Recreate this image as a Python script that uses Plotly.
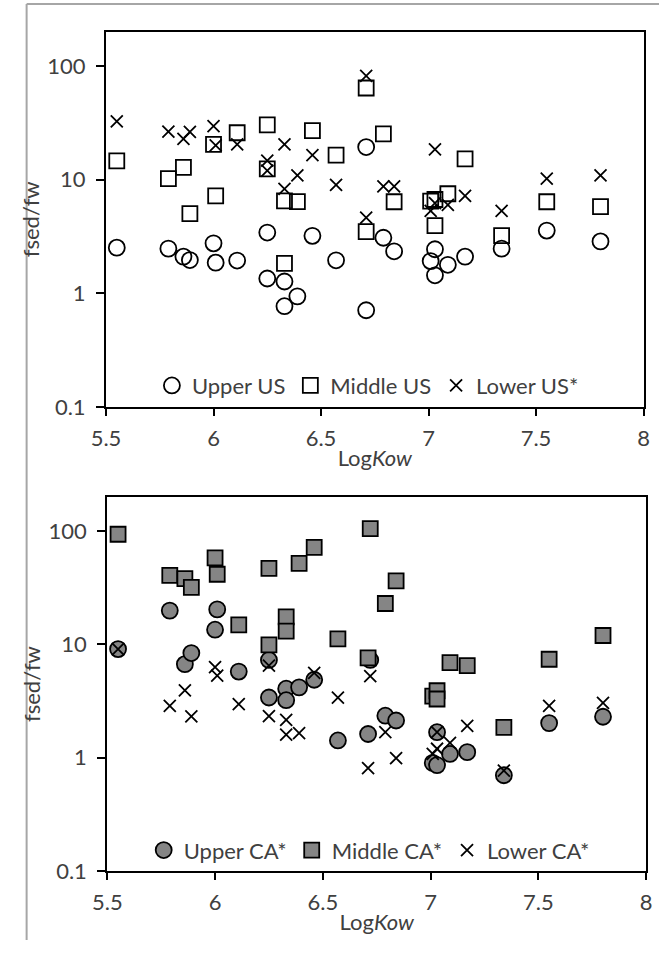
import plotly.graph_objects as go

# ---- data ----
logkow = [5.55, 5.79, 5.86, 5.89, 6.00, 6.01, 6.11, 6.25, 6.25, 6.33, 6.33, 6.39, 6.46,
          6.57, 6.71, 6.71, 6.79, 6.84, 7.01, 7.03, 7.03, 7.09, 7.17, 7.34, 7.55, 7.80]

upper_us = [2.52, 2.47, 2.10, 1.96, 2.75, 1.86, 1.94, 3.42, 1.35, 1.27, 0.77, 0.94, 3.20,
            1.95, 0.71, 19.3, 3.08, 2.34, 1.92, 2.44, 1.44, 1.78, 2.10, 2.47, 3.56, 2.86]
middle_us = [14.6, 10.2, 12.8, 5.02, 20.4, 7.2, 25.8, 30.3, 12.4, 6.5, 1.83, 6.4, 26.9,
             16.4, 63.8, 3.49, 25.2, 6.38, 6.47, 6.68, 3.94, 7.5, 15.2, 3.22, 6.38, 5.77]
lower_us = [32.4, 26.4, 22.8, 26.2, 29.5, 20.0, 20.4, 14.7, 12.0, 20.4, 8.3, 10.9, 16.4,
            9.0, 81.5, 4.63, 8.7, 8.7, 5.3, 18.4, 6.2, 6.0, 7.2, 5.3, 10.2, 10.9]

logkow_ca = [5.55, 5.79, 5.86, 5.89, 6.00, 6.01, 6.11, 6.25, 6.25, 6.33, 6.33, 6.39, 6.46,
             6.57, 6.71, 6.72, 6.79, 6.84, 7.01, 7.03, 7.03, 7.09, 7.17, 7.34, 7.55, 7.80]
upper_ca = [9.1, 19.9, 6.7, 8.4, 13.5, 20.4, 5.76, 7.3, 3.4, 4.07, 3.22, 4.18, 4.88,
            1.42, 1.62, 7.3, 2.35, 2.13, 0.90, 1.68, 0.86, 1.08, 1.12, 0.70, 2.02, 2.30]
middle_ca = [94.0, 40.8, 38.2, 31.9, 58.2, 41.7, 14.9, 47.0, 9.9, 17.5, 13.1, 52.0, 72.1,
             11.2, 7.6, 105.6, 23.0, 36.5, 3.5, 3.9, 3.3, 6.9, 6.5, 1.85, 7.4, 12.0]
lower_ca = [9.1, 2.87, 3.93, 2.32, 6.3, 5.3, 2.97, 6.5, 2.33, 2.16, 1.6, 1.65, 5.6,
            3.4, 0.81, 5.25, 1.68, 0.99, 1.08, 1.68, 1.2, 1.35, 1.91, 0.77, 2.87, 3.05]

y_tickvals = [0.1, 1, 10, 100]
y_ticktext = ["0.1", "1", "10", "100"]

FONT = "Lato"
TXT = "#404040"
FILL = "#858585"
FS = 22

fig = go.Figure()

def add(x, y, name, symbol, size, filled, axis, legend):
    if filled and symbol != "x-thin-open":
        marker = dict(symbol=symbol, size=size, color=FILL, line=dict(color="black", width=1.8))
    else:
        marker = dict(symbol=symbol, size=size, color="black", line=dict(color="black", width=1.8))
    fig.add_trace(go.Scatter(x=x, y=y, mode="markers", name=name, marker=marker,
                             xaxis=axis[0], yaxis=axis[1], legend=legend))

add(logkow, upper_us, "Upper US", "circle-open", 16, False, ("x", "y"), "legend")
add(logkow, middle_us, "Middle US", "square-open", 15, False, ("x", "y"), "legend")
add(logkow, lower_us, "Lower US*", "x-thin-open", 12, False, ("x", "y"), "legend")
add(logkow_ca, upper_ca, "Upper CA*", "circle", 16, True, ("x2", "y2"), "legend2")
add(logkow_ca, middle_ca, "Middle CA*", "square", 15, True, ("x2", "y2"), "legend2")
add(logkow_ca, lower_ca, "Lower CA*", "x-thin-open", 12, False, ("x2", "y2"), "legend2")

W, H = 665, 953
top_dom_x = [94 / W, 649 / W]
top_dom_y = [(H - 412.7) / H, (H - 32) / H]
bot_dom_x = [95.3 / W, 651.7 / W]
bot_dom_y = [(H - 883) / H, (H - 504) / H]

xcommon = dict(range=[5.5, 8], dtick=0.5, tick0=5.5, showgrid=False, zeroline=False,
               showline=True, linecolor="black", linewidth=2, mirror=True,
               ticks="outside", ticklen=7, tickwidth=1.5, tickcolor="black",
               ticklabelstandoff=4,
               tickfont=dict(family=FONT, size=FS, color=TXT),
               title=dict(text="Log<i>Kow</i>", font=dict(family=FONT, size=FS, color=TXT), standoff=0))
ycommon = dict(type="log", range=[-1, 2.301], tickvals=y_tickvals, ticktext=y_ticktext,
               showgrid=False, zeroline=False,
               showline=True, linecolor="black", linewidth=2, mirror=True,
               ticks="outside", ticklen=8, tickwidth=1.5, tickcolor="black",
               ticklabelstandoff=6,
               tickfont=dict(family=FONT, size=FS, color=TXT),
               title=dict(text="fsed/fw", font=dict(family=FONT, size=FS, color=TXT), standoff=2))

fig.update_layout(
    width=W, height=H, margin=dict(l=0, r=0, t=0, b=0),
    paper_bgcolor="white", plot_bgcolor="white",
    font=dict(family=FONT, color=TXT),
    xaxis=dict(domain=top_dom_x, anchor="y", **xcommon),
    yaxis=dict(domain=top_dom_y, anchor="x", **ycommon),
    xaxis2=dict(domain=bot_dom_x, anchor="y2", **xcommon),
    yaxis2=dict(domain=bot_dom_y, anchor="x2", **ycommon),
    legend=dict(orientation="h", x=0.548, xanchor="center", y=(H - 391) / H, yanchor="middle",
                bgcolor="rgba(0,0,0,0)", font=dict(family=FONT, size=FS, color=TXT),
                itemwidth=30, tracegroupgap=0),
    legend2=dict(orientation="h", x=0.550, xanchor="center", y=(H - 862) / H, yanchor="middle",
                 bgcolor="rgba(0,0,0,0)", font=dict(family=FONT, size=FS, color=TXT),
                 itemwidth=30, tracegroupgap=0),
    shapes=[
        dict(type="line", xref="paper", yref="paper", x0=12 / W, x1=1, y0=(H - 4) / H, y1=(H - 4) / H,
             line=dict(color="#a6a6a6", width=2)),
        dict(type="line", xref="paper", yref="paper", x0=12 / W, x1=12 / W, y0=0, y1=(H - 4) / H,
             line=dict(color="#a6a6a6", width=2)),
    ],
)

fig.write_html("out.html", config={"displayModeBar": False},
               post_script="document.body.style.margin='0px';document.body.style.overflow='hidden';")
